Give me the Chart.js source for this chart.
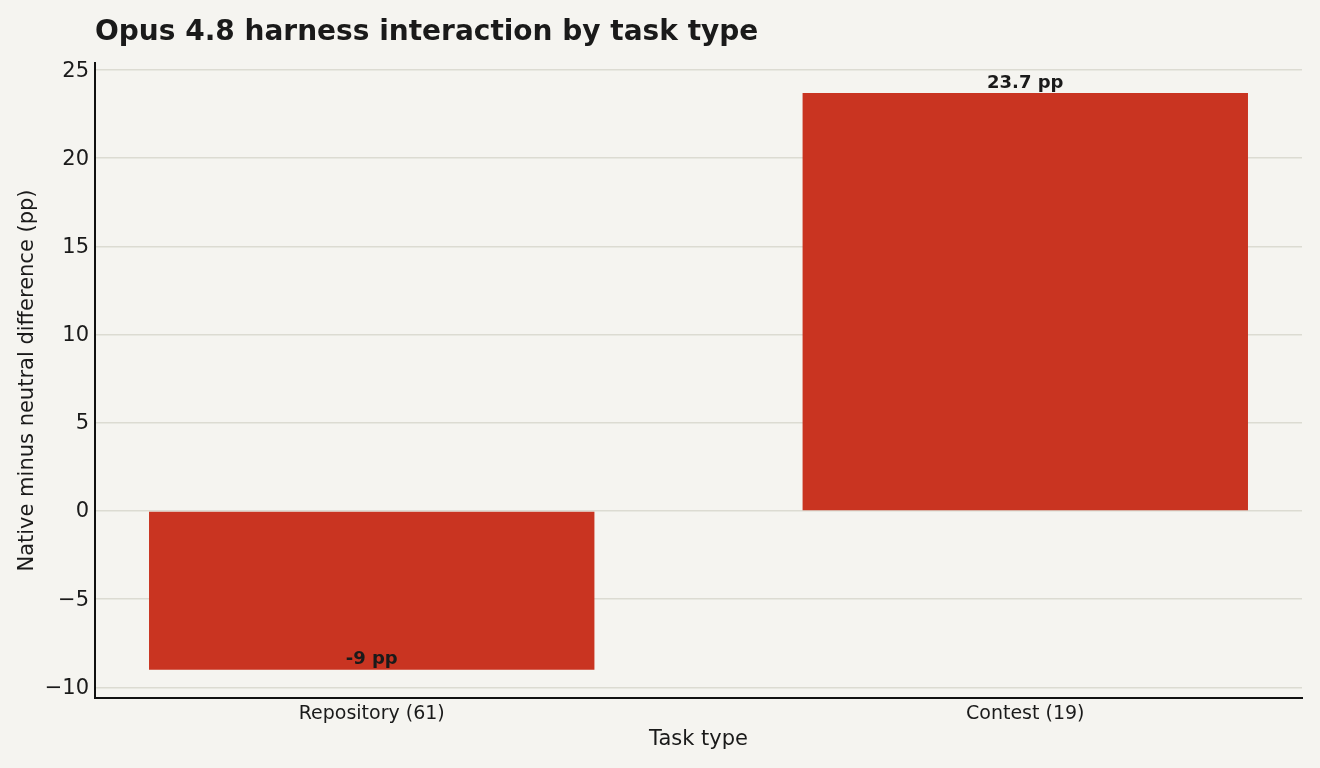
<!DOCTYPE html>
<html>
<head>
<meta charset="utf-8">
<script src="https://cdn.jsdelivr.net/npm/chart.js@4"></script>
<style>
  html, body { margin: 0; padding: 0; background: #f5f4f0; }
  #wrap { width: 1320px; height: 768px; }
</style>
</head>
<body>
<div id="wrap"><canvas id="taskChart"></canvas></div>
<script>
const categories = ['Repository (61)', 'Contest (19)'];
const diffValues = [-9, 23.7];
const diffLabels = ['-9 pp', '23.7 pp'];
const yTickValues = [-10, -5, 0, 5, 10, 15, 20, 25];

const chartTitle = 'Opus 4.8 harness interaction by task type';

// title drawn at the plot's left edge, labels at bar ends
const annotate = {
    id: 'annotate',
    afterDatasetsDraw(chart) {
        const ctx = chart.ctx;
        const xs = chart.scales.x, ys = chart.scales.y;
        ctx.save();
        ctx.fillStyle = '#1a1a1a';
        ctx.font = 'bold 28px "DejaVu Sans"';
        ctx.textAlign = 'left';
        ctx.textBaseline = 'alphabetic';
        ctx.fillText(chartTitle, chart.chartArea.left, 40);

        ctx.font = 'bold 18px "DejaVu Sans"';
        ctx.textAlign = 'center';
        ctx.textBaseline = 'bottom';
        diffValues.forEach((v, i) => {
            ctx.fillText(diffLabels[i], xs.getPixelForValue(i), ys.getPixelForValue(v) - 1);
        });
        ctx.restore();
    }
};

const ctx = document.getElementById('taskChart').getContext('2d');
const taskChart = new Chart(ctx, {
    type: 'bar',
    data: {
        datasets: [{
            data: diffValues.map((v, i) => ({ x: i, y: v })),
            backgroundColor: '#c93421',
            borderWidth: 0,
            categoryPercentage: 1,
            barPercentage: 0.6815
        }]
    },
    options: {
        responsive: true,
        maintainAspectRatio: false,
        animation: false,
        layout: { padding: { top: 63, right: 18, left: 0, bottom: 0 } },
        plugins: {
            legend: { display: false },
            tooltip: { enabled: false }
        },
        scales: {
            x: {
                type: 'linear',
                offset: false,
                min: -0.4234,
                max: 1.4234,
                afterBuildTicks: s => { s.ticks = categories.map((c, i) => ({ value: i })); },
                afterFit: s => { s.height = 70; },
                ticks: {
                    color: '#1a1a1a',
                    font: { family: 'DejaVu Sans', size: 19 },
                    padding: 5,
                    callback: v => categories[v]
                },
                grid: { display: false, drawTicks: false },
                border: { display: true, color: '#111', width: 2 },
                title: {
                    display: true,
                    text: 'Task type',
                    color: '#1a1a1a',
                    font: { family: 'DejaVu Sans', size: 21 },
                    padding: { top: 16, bottom: 16 }
                }
            },
            y: {
                min: -10.6,
                max: 25.4,
                afterBuildTicks: s => { s.ticks = yTickValues.map(v => ({ value: v })); },
                afterFit: s => { s.width = 95; },
                ticks: {
                    color: '#1a1a1a',
                    font: { family: 'DejaVu Sans', size: 21 },
                    padding: 6,
                    labelOffset: 1,
                    callback: v => String(v).replace('-', '\u2212')
                },
                grid: { color: '#dcdbd2', lineWidth: 1.5, drawTicks: false },
                border: { display: true, color: '#111', width: 2 },
                title: {
                    display: true,
                    text: 'Native minus neutral difference (pp)',
                    color: '#1a1a1a',
                    font: { family: 'DejaVu Sans', size: 21 },
                    padding: { top: 15, bottom: 15 }
                }
            }
        }
    },
    plugins: [annotate]
});
</script>
</body>
</html>
